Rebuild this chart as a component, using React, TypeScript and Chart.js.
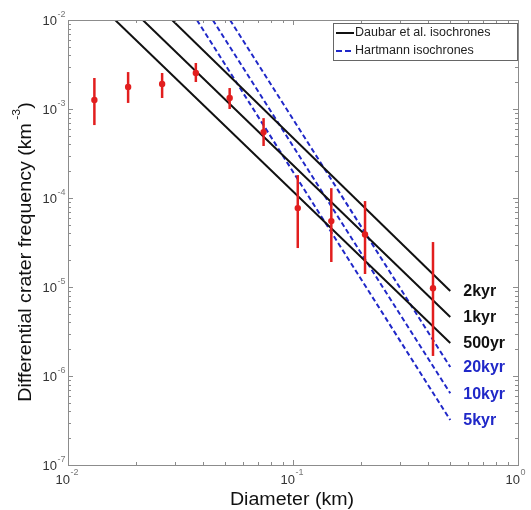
import React, { useEffect, useRef } from 'react';
import { Chart, registerables } from 'chart.js';

Chart.register(...registerables);

const FONT = '"Liberation Sans", Arial, Helvetica, sans-serif';

// Observed crater data (diameter km, differential frequency km^-3)
const diameters = [0.0131, 0.0185, 0.0262, 0.037, 0.0523, 0.074, 0.105, 0.148, 0.209, 0.419];
const frequency = [1.26e-3, 1.77e-3, 1.91e-3, 2.54e-3, 1.33e-3, 5.5e-4, 7.7e-5, 5.5e-5, 3.9e-5, 9.7e-6];
const freqLow = [6.6e-4, 1.17e-3, 1.33e-3, 2.01e-3, 1.0e-3, 3.84e-4, 2.74e-5, 1.91e-5, 1.4e-5, 1.68e-6];
const freqHigh = [2.23e-3, 2.6e-3, 2.54e-3, 3.29e-3, 1.72e-3, 7.9e-4, 1.81e-4, 1.29e-4, 9.24e-5, 3.2e-5];

// Isochrones (straight lines in log-log space, given by their two ends)
const isoLabels = ['2kyr', '1kyr', '500yr', '20kyr', '10kyr', '5kyr'];
const isoKind = ['daubar', 'daubar', 'daubar', 'hartmann', 'hartmann', 'hartmann'];
const isoStartD = [0.029, 0.0215, 0.0162, 0.0525, 0.044, 0.0374];
const isoStartF = [1e-2, 1e-2, 1e-2, 1e-2, 1e-2, 1e-2];
const isoEndD = [0.5, 0.5, 0.5, 0.5, 0.5, 0.5];
const isoEndF = [9.0e-6, 4.6e-6, 2.35e-6, 1.26e-6, 6.4e-7, 3.2e-7];

const xMajor = [0.01, 0.1, 1];
const xExp = ['-2', '-1', '0'];
const yMajor = [1e-7, 1e-6, 1e-5, 1e-4, 1e-3, 1e-2];
const yExp = ['-7', '-6', '-5', '-4', '-3', '-2'];

const RED = 'rgb(226,30,30)';
const BLUE = 'rgb(32,40,200)';
const BLACK = '#111111';
const AXIS = '#8c8c8c';
const STRETCH = 1.12;

function minorTicks(majors: number[]): number[] {
  const out: number[] = [];
  for (let i = 0; i < majors.length - 1; i++) {
    for (let m = 2; m <= 9; m++) out.push(majors[i] * m);
  }
  return out;
}

const decorPlugin = {
  id: 'decor',
  afterDatasetsDraw(chart: any) {
    const ctx = chart.ctx;
    const xs = chart.scales.x;
    const ys = chart.scales.y;
    ctx.save();
    ctx.strokeStyle = RED;
    ctx.lineWidth = 2.5;
    for (let i = 0; i < diameters.length; i++) {
      const px = xs.getPixelForValue(diameters[i]);
      ctx.beginPath();
      ctx.moveTo(px, ys.getPixelForValue(freqLow[i]));
      ctx.lineTo(px, ys.getPixelForValue(freqHigh[i]));
      ctx.stroke();
    }
    ctx.restore();
  },
  afterDraw(chart: any) {
    const ctx = chart.ctx;
    const xs = chart.scales.x;
    const ys = chart.scales.y;
    const { left, right, top, bottom } = chart.chartArea;
    ctx.save();

    // frame
    ctx.strokeStyle = AXIS;
    ctx.lineWidth = 1;
    ctx.strokeRect(Math.round(left) + 0.5, Math.round(top) + 0.5, Math.round(right - left), Math.round(bottom - top));

    // ticks
    const drawXTick = (v: number, len: number) => {
      const px = Math.round(xs.getPixelForValue(v)) + 0.5;
      ctx.beginPath();
      ctx.moveTo(px, bottom);
      ctx.lineTo(px, bottom - len);
      ctx.moveTo(px, top);
      ctx.lineTo(px, top + len);
      ctx.stroke();
    };
    const drawYTick = (v: number, len: number) => {
      const py = Math.round(ys.getPixelForValue(v)) + 0.5;
      ctx.beginPath();
      ctx.moveTo(left, py);
      ctx.lineTo(left + len, py);
      ctx.moveTo(right, py);
      ctx.lineTo(right - len, py);
      ctx.stroke();
    };
    xMajor.forEach((v) => drawXTick(v, 5));
    minorTicks(xMajor).forEach((v) => drawXTick(v, 3));
    yMajor.forEach((v) => drawYTick(v, 5));
    minorTicks(yMajor).forEach((v) => drawYTick(v, 3));

    // tick labels
    ctx.textBaseline = 'middle';
    xMajor.forEach((v, i) => {
      const px = xs.getPixelForValue(v);
      ctx.font = `13px ${FONT}`;
      ctx.fillStyle = '#333';
      ctx.textAlign = 'right';
      ctx.fillText('10', px + 2, bottom + 15);
      ctx.font = `9px ${FONT}`;
      ctx.fillStyle = '#777';
      ctx.textAlign = 'left';
      ctx.fillText(xExp[i], px + 2.5, bottom + 8);
    });
    yMajor.forEach((v, i) => {
      const py = ys.getPixelForValue(v);
      ctx.font = `13px ${FONT}`;
      ctx.fillStyle = '#333';
      ctx.textAlign = 'right';
      ctx.fillText('10', left - 11, py + 1);
      ctx.font = `9px ${FONT}`;
      ctx.fillStyle = '#777';
      ctx.textAlign = 'left';
      ctx.fillText(yExp[i], left - 10.5, py - 5);
    });

    // axis titles (slightly wide lettering, as in the original)
    ctx.fillStyle = '#111';
    ctx.save();
    ctx.translate((left + right) / 2 - 1, bottom + 35);
    ctx.scale(STRETCH, 1);
    ctx.font = `17.5px ${FONT}`;
    ctx.textAlign = 'center';
    ctx.textBaseline = 'middle';
    ctx.fillText('Diameter (km)', 0, 0);
    ctx.restore();

    ctx.save();
    ctx.translate(25, 252);
    ctx.rotate(-Math.PI / 2);
    ctx.scale(STRETCH, 1);
    const main = 'Differential crater frequency (km';
    const sup = '-3';
    const close = ')';
    ctx.font = `17.5px ${FONT}`;
    const w1 = ctx.measureText(main).width;
    const w3 = ctx.measureText(close).width;
    ctx.font = `11px ${FONT}`;
    const w2 = ctx.measureText(sup).width;
    const total = w1 + 3 + w2 + w3;
    let x0 = -total / 2;
    ctx.textAlign = 'left';
    ctx.textBaseline = 'alphabetic';
    ctx.font = `17.5px ${FONT}`;
    ctx.fillText(main, x0, 6);
    x0 += w1 + 3;
    ctx.font = `11px ${FONT}`;
    ctx.fillText(sup, x0, -5);
    x0 += w2;
    ctx.font = `17.5px ${FONT}`;
    ctx.fillText(close, x0, 6);
    ctx.restore();

    // end labels
    ctx.font = `bold 16px ${FONT}`;
    ctx.textAlign = 'left';
    ctx.textBaseline = 'middle';
    isoLabels.forEach((lab, i) => {
      const meta = chart.getDatasetMeta(i + 1);
      const pt = meta.data[meta.data.length - 1];
      ctx.fillStyle = isoKind[i] === 'daubar' ? BLACK : BLUE;
      ctx.fillText(lab, pt.x + 13, pt.y + 1);
    });

    // legend
    const lx = 333.5, ly = 23.5, lw = 184, lh = 37;
    ctx.fillStyle = '#fff';
    ctx.fillRect(lx, ly, lw, lh);
    ctx.strokeStyle = '#666';
    ctx.lineWidth = 1;
    ctx.strokeRect(lx, ly, lw, lh);
    ctx.lineWidth = 2;
    ctx.strokeStyle = BLACK;
    ctx.beginPath();
    ctx.moveTo(336, 33);
    ctx.lineTo(354, 33);
    ctx.stroke();
    ctx.strokeStyle = BLUE;
    ctx.setLineDash([6, 3]);
    ctx.beginPath();
    ctx.moveTo(336, 51);
    ctx.lineTo(354, 51);
    ctx.stroke();
    ctx.setLineDash([]);
    ctx.fillStyle = '#222';
    ctx.font = `12.5px ${FONT}`;
    ctx.textAlign = 'left';
    ctx.textBaseline = 'middle';
    ctx.fillText('Daubar et al. isochrones', 355, 33);
    ctx.fillText('Hartmann isochrones', 355, 51);

    ctx.restore();
  },
};

export default function App() {
  const ref = useRef<HTMLCanvasElement>(null);
  useEffect(() => {
    const lineSets = isoLabels.map((lab, i) => ({
      label: lab,
      data: [
        { x: isoStartD[i], y: isoStartF[i] },
        { x: isoEndD[i], y: isoEndF[i] },
      ],
      showLine: true,
      borderColor: isoKind[i] === 'daubar' ? BLACK : BLUE,
      borderWidth: 2,
      borderDash: isoKind[i] === 'daubar' ? [] : [5, 3],
      pointRadius: 0,
      fill: false,
    }));
    const chart = new Chart(ref.current as HTMLCanvasElement, {
      type: 'scatter',
      data: {
        datasets: [
          {
            label: 'Observed',
            data: diameters.map((d, i) => ({ x: d, y: frequency[i] })),
            showLine: false,
            pointRadius: 3.2,
            pointBackgroundColor: RED,
            pointBorderWidth: 0,
            borderColor: RED,
          },
          ...lineSets,
        ] as any,
      },
      options: {
        responsive: false,
        animation: false,
        events: [],
        layout: { padding: { left: 68, top: 20, right: 13, bottom: 45 } },
        plugins: { legend: { display: false }, tooltip: { enabled: false } },
        scales: {
          x: { type: 'logarithmic', min: 0.01, max: 1, display: false },
          y: { type: 'logarithmic', min: 1e-7, max: 1e-2, display: false },
        },
      },
      plugins: [decorPlugin],
    });
    return () => chart.destroy();
  }, []);
  return (
    <div style={{ position: 'absolute', left: 0, top: 0, width: 531, height: 510, background: '#fff' }}>
      <canvas ref={ref} width={531} height={510} style={{ display: 'block', width: 531, height: 510 }} />
    </div>
  );
}
